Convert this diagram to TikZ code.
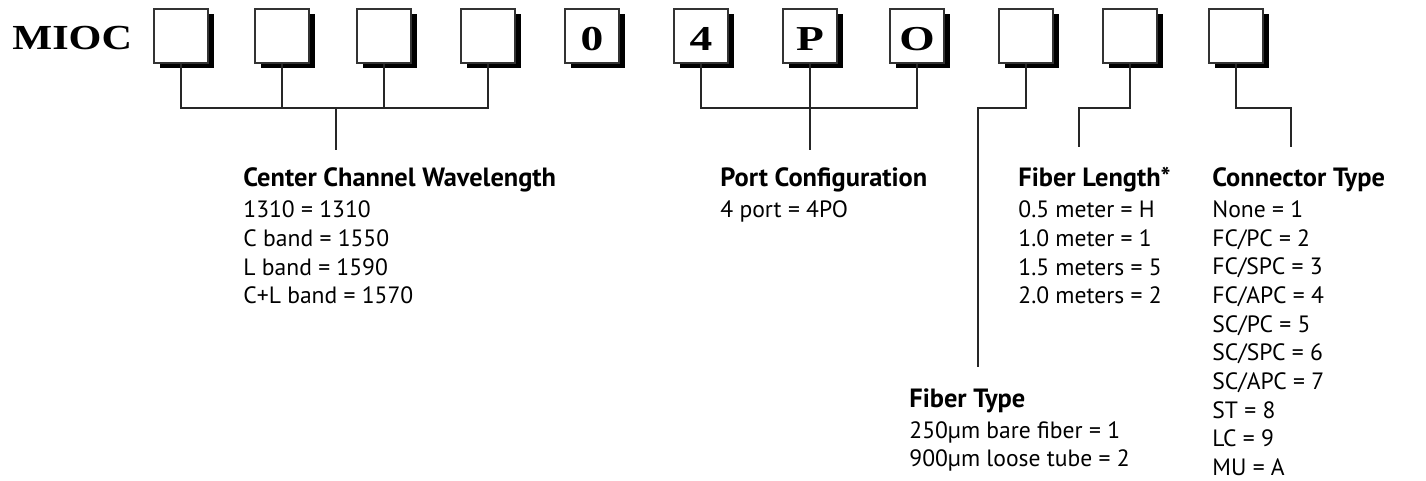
\documentclass[tikz,border=0pt]{standalone}
\usepackage{fontspec}
\setmainfont{PT Sans}
\newfontfamily\codefont[FakeStretch=1.2]{Liberation Serif}
\newfontfamily\slotfont[FakeStretch=1.3]{Liberation Serif}
\usetikzlibrary{shadows}
\tikzset{
    slot/.style={draw=black!80, line width=0.6pt, fill=white, minimum size=27pt, inner sep=0pt,
        text height=15pt, text depth=0pt,
        drop shadow={shadow xshift=2.75pt, shadow yshift=-2.75pt, opacity=1, fill=black},
        font=\slotfont\bfseries\fontsize{17.5}{20}\selectfont},
    wire/.style={draw=black!85, line width=0.6pt},
    heading/.style={anchor=base west, inner sep=0pt, font=\bfseries\fontsize{13.2}{15}\selectfont},
    entry/.style={anchor=base west, inner sep=0pt, font=\fontsize{11.8}{14}\selectfont},
}

\begin{document}
\begin{tikzpicture}[x=0.5pt, y=-0.5pt]
    \useasboundingbox (0,0) rectangle (1426,481);
    % Part number prefix
    \node[anchor=base west, inner sep=0pt, font=\codefont\bfseries\fontsize{17.6}{20}\selectfont] (mioc) at (12,50) {MIOC};
    % The code slots
    \node[slot] (s1) at (181,36) {};
    \node[slot] (s2) at (282,36) {};
    \node[slot] (s3) at (384,36) {};
    \node[slot] (s4) at (488,36) {};
    \node[slot] (s5) at (592,36) {0};
    \node[slot] (s6) at (701,36) {4};
    \node[slot] (s7) at (810,36) {P};
    \node[slot] (s8) at (917,36) {O};
    \node[slot] (s9) at (1026,36) {};
    \node[slot] (s10) at (1130,36) {};
    \node[slot] (s11) at (1236,36) {};
    % Bends and free ends of the leads
    \coordinate (cwjoin) at (336,108);
    \coordinate (cw) at (336,150);
    \coordinate (pcjoin) at (810,108);
    \coordinate (pc) at (810,150);
    \coordinate (ftbend) at (978,108);
    \coordinate (ft) at (978,367);
    \coordinate (flbend) at (1079,108);
    \coordinate (fl) at (1079,147);
    \coordinate (ctbend) at (1291,108);
    \coordinate (ct) at (1291,147);
    % Wavelength slots
    \draw[wire] (s1.south) |- (s4.south |- cwjoin) -- (s4.south);
    \draw[wire] (s2.south) -- (s2.south |- cwjoin);
    \draw[wire] (s3.south) -- (s3.south |- cwjoin);
    \draw[wire] (cwjoin) -- (cw);
    % Port slots
    \draw[wire] (s6.south) |- (s8.south |- pcjoin) -- (s8.south);
    \draw[wire] (s7.south) -- (pc);
    % Fiber and connector slots
    \draw[wire] (s9.south) |- (ftbend) -- (ft);
    \draw[wire] (s10.south) |- (flbend) -- (fl);
    \draw[wire] (s11.south) |- (ctbend) -- (ct);
    % Legends
    \node[heading] (cwhead) at (243,186.5) {Center Channel Wavelength};
    \foreach \txt [count=\i] in {1310 = 1310, C band = 1550, L band = 1590, C+L band = 1570}
        \node[entry] (cw\i) at (243,189+28.7*\i) {\txt};
    \node[heading] (pchead) at (720,186.5) {Port Configuration};
    \node[entry] (pc1) at (720,217.7) {4 port = 4PO};
    \node[heading] (flhead) at (1018,186.5) {Fiber Length*};
    \foreach \txt [count=\i] in {0.5 meter = H, 1.0 meter = 1, 1.5 meters = 5, 2.0 meters = 2}
        \node[entry] (fl\i) at (1018,189+28.7*\i) {\txt};
    \node[heading] (cthead) at (1212,186.5) {Connector Type};
    \foreach \txt [count=\i] in {None = 1, FC/PC = 2, FC/SPC = 3, FC/APC = 4, SC/PC = 5, SC/SPC = 6, SC/APC = 7, ST = 8, LC = 9, MU = A}
        \node[entry] (ct\i) at (1212,189+28.65*\i) {\txt};
    \node[heading] (fthead) at (909,407) {Fiber Type};
    \foreach \txt [count=\i] in {250µm bare fiber = 1, 900µm loose tube = 2}
        \node[entry] (ft\i) at (909,409.5+28.5*\i) {\txt};
\end{tikzpicture}
\end{document}
